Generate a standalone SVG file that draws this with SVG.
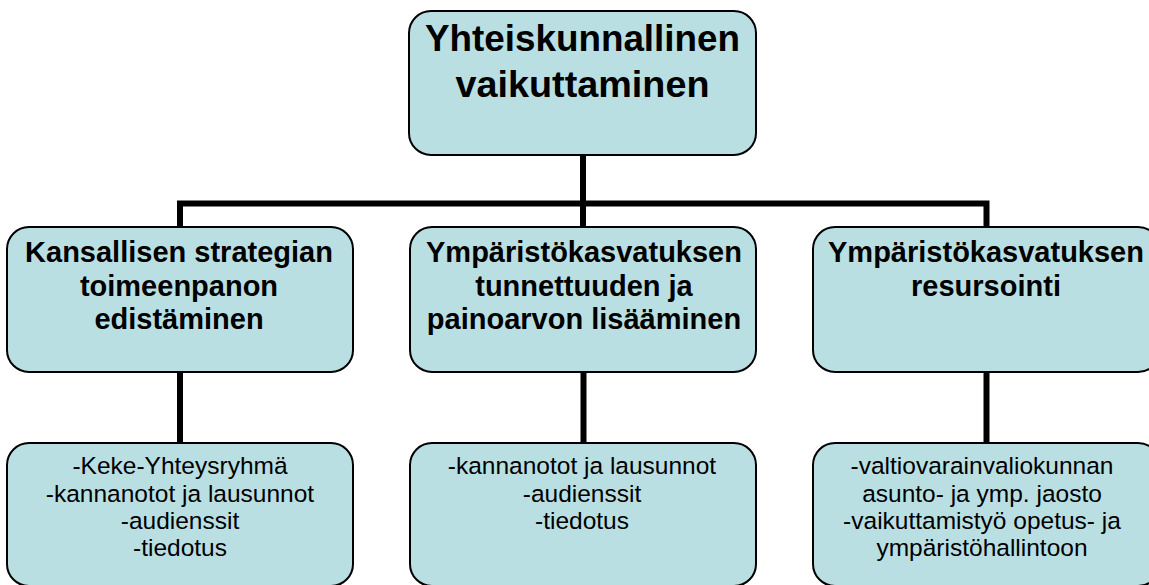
<svg xmlns="http://www.w3.org/2000/svg" width="1149" height="585" viewBox="0 0 1149 585">
<style>
.box{fill:#BADFE3;stroke:#000;stroke-width:2}
.conn{fill:none;stroke:#000;stroke-width:6;stroke-linejoin:miter}
.t1{font-family:"Liberation Sans",Arial,sans-serif;font-weight:bold;font-size:36px;text-anchor:middle;fill:#000}
.t2{font-family:"Liberation Sans",Arial,sans-serif;font-weight:bold;font-size:29px;text-anchor:middle;fill:#000}
.t3{font-family:"Liberation Sans",Arial,sans-serif;font-size:24.5px;text-anchor:middle;fill:#000}
</style>
<rect width="1149" height="585" fill="#fff"/>
<g id="connectors">
<path class="conn" d="M583,155 V227"/>
<path class="conn" d="M180,227 V203.5 H986.5 V227"/>
<path class="conn" d="M180,372 V443"/>
<path class="conn" d="M583.5,372 V443"/>
<path class="conn" d="M986.5,372 V443"/>
</g>
<g id="root">
<rect class="box" x="409" y="11" width="347" height="144" rx="22"/>
<text class="t1" x="582.5" y="51" textLength="315" lengthAdjust="spacingAndGlyphs">Yhteiskunnallinen</text>
<text class="t1" x="582.5" y="97" textLength="254" lengthAdjust="spacingAndGlyphs">vaikuttaminen</text>
</g>
<g id="mid-left">
<rect class="box" x="7" y="227" width="346" height="145" rx="22"/>
<text class="t2" x="179" y="262">Kansallisen strategian</text>
<text class="t2" x="179" y="296">toimeenpanon</text>
<text class="t2" x="179" y="329">edistäminen</text>
</g>
<g id="mid-center">
<rect class="box" x="410" y="227" width="346" height="145" rx="22"/>
<text class="t2" x="584" y="262">Ympäristökasvatuksen</text>
<text class="t2" x="584" y="296">tunnettuuden ja</text>
<text class="t2" x="584" y="329">painoarvon lisääminen</text>
</g>
<g id="mid-right">
<rect class="box" x="813" y="227" width="347" height="145" rx="22"/>
<text class="t2" x="986" y="262">Ympäristökasvatuksen</text>
<text class="t2" x="986" y="296">resursointi</text>
</g>
<g id="bottom-left">
<rect class="box" x="7" y="443" width="346" height="143" rx="22"/>
<text class="t3" x="180" y="474">-Keke-Yhteysryhmä</text>
<text class="t3" x="180" y="502">-kannanotot ja lausunnot</text>
<text class="t3" x="180" y="529">-audienssit</text>
<text class="t3" x="180" y="556">-tiedotus</text>
</g>
<g id="bottom-center">
<rect class="box" x="410" y="443" width="346" height="143" rx="22"/>
<text class="t3" x="582" y="474">-kannanotot ja lausunnot</text>
<text class="t3" x="582" y="502">-audienssit</text>
<text class="t3" x="582" y="529">-tiedotus</text>
</g>
<g id="bottom-right">
<rect class="box" x="813" y="443" width="347" height="143" rx="22"/>
<text class="t3" x="982" y="474">-valtiovarainvaliokunnan</text>
<text class="t3" x="982" y="502">asunto- ja ymp. jaosto</text>
<text class="t3" x="982" y="529">-vaikuttamistyö opetus- ja</text>
<text class="t3" x="982" y="556">ympäristöhallintoon</text>
</g>
</svg>
